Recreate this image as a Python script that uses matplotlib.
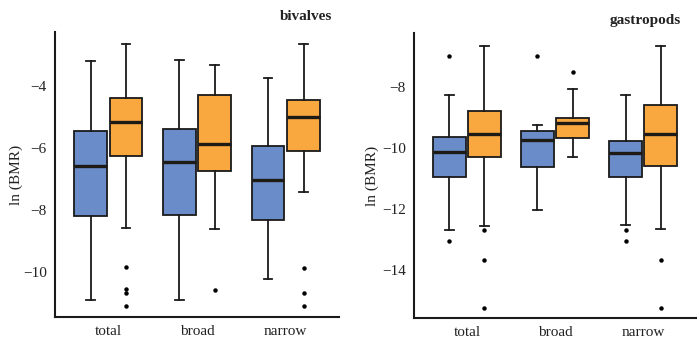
import matplotlib
matplotlib.use("Agg")
import matplotlib.pyplot as plt

plt.rcParams['font.family'] = ['Liberation Serif', 'DejaVu Serif']

categories = ["total", "broad", "narrow"]
series = ["blue", "orange"]
colors = {"blue": "#6a8dc9", "orange": "#f8a83f"}

# bivalves: (whislo, q1, med, q3, whishi, outliers)
biv_blue = [
    (-10.90, -8.20, -6.59, -5.46, -3.19, []),
    (-10.90, -8.16, -6.44, -5.40, -3.17, []),
    (-10.24, -8.32, -7.03, -5.95, -3.76, []),
]
biv_orange = [
    (-8.57, -6.25, -5.16, -4.40, -2.66, [-9.84, -10.55, -10.66, -11.10]),
    (-8.60, -6.73, -5.87, -4.28, -3.34, [-10.58]),
    (-7.42, -6.10, -5.01, -4.46, -2.66, [-9.86, -10.66, -11.10]),
]
gas_blue = [
    (-12.69, -10.94, -10.13, -9.65, -8.26, [-7.00, -13.05]),
    (-12.02, -10.64, -9.73, -9.45, -9.26, [-7.00]),
    (-12.51, -10.94, -10.17, -9.78, -8.26, [-12.70, -13.05]),
]
gas_orange = [
    (-12.55, -10.30, -9.54, -8.80, -6.66, [-12.68, -13.67, -15.23]),
    (-10.30, -9.67, -9.18, -9.01, -8.07, [-7.53]),
    (-12.67, -10.59, -9.55, -8.61, -6.66, [-13.67, -15.23]),
]

panels = [
    ("bivalves", biv_blue, biv_orange, (-11.45, -2.26), [-10, -8, -6, -4],
     [0.0786, 0.0676, 0.4057, 0.8384], 0.475, 0.95, 0),
    ("gastropods", gas_blue, gas_orange, (-15.57, -6.24), [-14, -12, -10, -8],
     [0.5914, 0.0647, 0.4029, 0.8383], 0.973, 0.94, 2),
]

fig = plt.figure(figsize=(7, 3.4), dpi=100)

def to_stats(rows):
    return [dict(whislo=r[0], q1=r[1], med=r[2], q3=r[3], whishi=r[4], fliers=r[5]) for r in rows]

for title, blue, orange, ylim, yticks, rect, tx, ty, lpad in panels:
    ax = fig.add_axes(rect)
    for name, rows, off in (("blue", blue, -0.2), ("orange", orange, 0.2)):
        pos = [i + off for i in range(len(categories))]
        ax.bxp(to_stats(rows), positions=pos, widths=0.37, patch_artist=True,
               capwidths=0.1,
               boxprops=dict(facecolor=colors[name], edgecolor="#1a1a1a", linewidth=1.3),
               medianprops=dict(color="#1e1a16", linewidth=2.4),
               whiskerprops=dict(color="#1a1a1a", linewidth=1.3),
               capprops=dict(color="#1a1a1a", linewidth=1.3),
               flierprops=dict(marker="o", markersize=2.2, markerfacecolor="black",
                               markeredgecolor="black", linestyle="none"),
               manage_ticks=False)
    ax.set_xlim(-0.6, 2.6)
    ax.set_ylim(*ylim)
    ax.set_xticks(range(len(categories)))
    ax.set_xticklabels(categories)
    ax.set_yticks(yticks)
    ax.set_yticklabels([f"\u2212{abs(v)}" for v in yticks])
    ax.tick_params(axis="both", length=0, labelsize=11, pad=6, colors="#222222")
    for s in ("top", "right"):
        ax.spines[s].set_visible(False)
    for s in ("left", "bottom"):
        ax.spines[s].set_linewidth(1.5)
        ax.spines[s].set_color("#1a1a1a")
    ax.set_ylabel("ln (BMR)", fontsize=11, color="#222222", labelpad=lpad)
    fig.text(tx, ty, title, ha="right", va="center", fontsize=11, fontweight="bold",
             color="#222222")

fig.savefig("out.png", dpi=100)
